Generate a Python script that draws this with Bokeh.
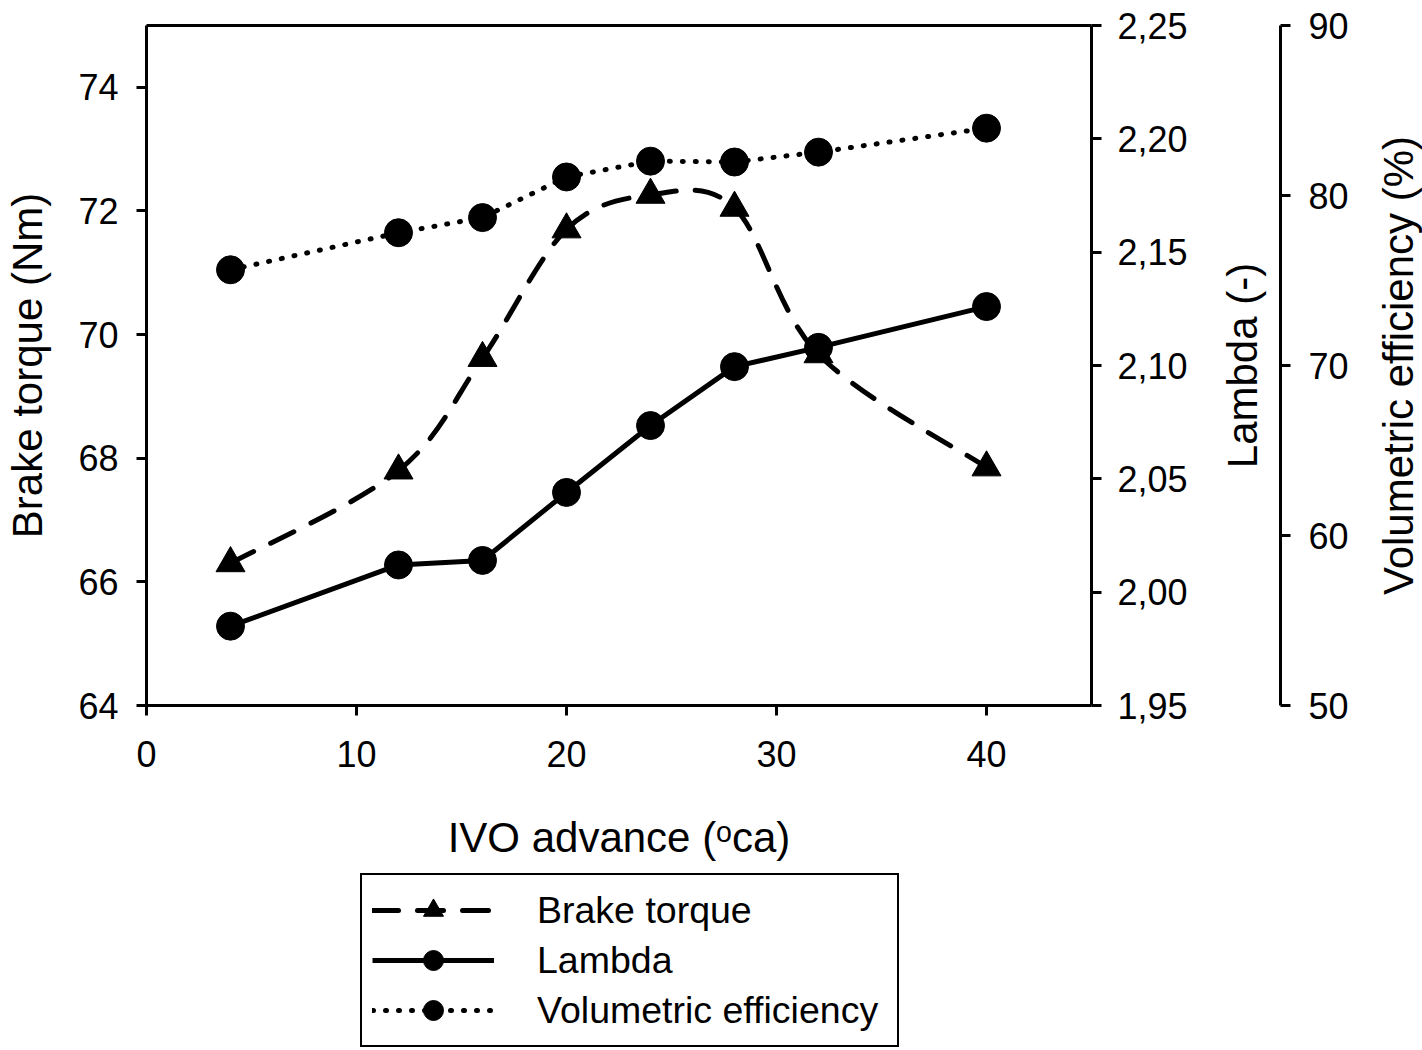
import math
from bokeh.plotting import figure
from bokeh.models import (Range1d, LinearAxis, FixedTicker, CustomJSTickFormatter,
                          Legend, LegendItem, ColumnDataSource, Label)
from bokeh.embed import file_html
from bokeh.resources import INLINE

# ---- data ----
ivo_advance = [4, 12, 16, 20, 24, 28, 32, 40]
brake_torque = [66.30, 67.80, 69.62, 71.70, 72.26, 72.05, 69.68, 67.85]
lambda_vals = [1.985, 2.012, 2.014, 2.044, 2.0735, 2.0995, 2.108, 2.126]
vol_eff = [75.63, 77.81, 78.70, 81.09, 82.02, 81.97, 82.55, 83.96]

x_ticks = [0, 10, 20, 30, 40]
torque_ticks = [64, 66, 68, 70, 72, 74]
lambda_ticks = [1.95, 2.00, 2.05, 2.10, 2.15, 2.20, 2.25]
vol_ticks = [50, 60, 70, 80, 90]

X_LIM = (0, 45)
T_LIM = (64, 75)
L_LIM = (1.95, 2.25)
V_LIM = (50, 90)

FONT = "Liberation Sans"

# ---- page geometry (pixels) ----
W, H = 1422, 1050
BOX_L, BOX_R, BOX_T, BOX_B = 146, 1091, 25, 705
VOL_AXIS_PX = 1280


def span(lim, lo_px, hi_px, total, from_top=False):
    # extend a data range so that lim maps onto the pixel box inside the full canvas
    a, b = lim
    per_px = (b - a) / (hi_px - lo_px)
    if from_top:
        return Range1d(a - (total - hi_px) * per_px, b + lo_px * per_px)
    return Range1d(a - lo_px * per_px, b + (total - hi_px) * per_px)


x_rng = span(X_LIM, BOX_L, BOX_R, W)
t_rng = span(T_LIM, BOX_T, BOX_B, H, from_top=True)
l_rng = span(L_LIM, BOX_T, BOX_B, H, from_top=True)
v_rng = span(V_LIM, BOX_T, BOX_B, H, from_top=True)
vol_axis_x = X_LIM[0] + (VOL_AXIS_PX - BOX_L) * (X_LIM[1] - X_LIM[0]) / (BOX_R - BOX_L)

p = figure(frame_width=W, frame_height=H, x_range=x_rng, y_range=t_rng,
           output_backend="svg", toolbar_location=None,
           min_border_left=0, min_border_right=0, min_border_top=0, min_border_bottom=0)
p.extra_y_ranges = {"lam": l_rng, "vol": v_rng}
p.xgrid.visible = False
p.ygrid.visible = False
p.outline_line_color = None
p.background_fill_color = "white"
p.border_fill_color = "white"


def style_axis(ax):
    ax.axis_line_width = 3
    ax.axis_line_color = "black"
    ax.major_tick_line_width = 3
    ax.major_tick_line_color = "black"
    ax.major_tick_out = 10
    ax.major_tick_in = 0
    ax.minor_tick_line_color = None
    ax.major_label_text_font = FONT
    ax.major_label_text_font_size = "36px"
    ax.major_label_text_color = "black"
    ax.axis_label_text_font = FONT
    ax.axis_label_text_font_size = "42px"
    ax.axis_label_text_font_style = "normal"
    ax.axis_label_text_color = "black"


xa = p.xaxis[0]
style_axis(xa)
xa.ticker = FixedTicker(ticks=x_ticks)
xa.bounds = X_LIM
xa.fixed_location = T_LIM[0]
xa.axis_label = "IVO advance (\u1d52ca)"
xa.major_label_standoff = 25
xa.axis_label_standoff = 44

ya = p.yaxis[0]
style_axis(ya)
ya.ticker = FixedTicker(ticks=torque_ticks)
ya.bounds = T_LIM
ya.fixed_location = X_LIM[0]
ya.axis_label = "Brake torque (Nm)"
ya.major_label_standoff = 18
ya.axis_label_standoff = 24

# top edge of the plot box
top = LinearAxis(ticker=FixedTicker(ticks=[]), bounds=X_LIM, fixed_location=T_LIM[1])
top.axis_line_width = 3
top.axis_line_color = "black"
top.major_tick_line_color = None
top.minor_tick_line_color = None
top.major_label_text_font_size = "0px"
p.add_layout(top, "above")

lam_axis = LinearAxis(y_range_name="lam", ticker=FixedTicker(ticks=lambda_ticks),
                      formatter=CustomJSTickFormatter(code="return tick.toFixed(2).replace('.', ',');"),
                      bounds=L_LIM, fixed_location=X_LIM[1])
style_axis(lam_axis)
lam_axis.major_label_standoff = 16
p.add_layout(lam_axis, "right")

vol_axis = LinearAxis(y_range_name="vol", ticker=FixedTicker(ticks=vol_ticks),
                      bounds=V_LIM, fixed_location=vol_axis_x)
style_axis(vol_axis)
vol_axis.major_label_standoff = 18
p.add_layout(vol_axis, "right")

# rotated axis titles on the right, reading bottom-to-top
mid_y = H - (BOX_T + BOX_B) / 2
for text, xc in [("Lambda (-)", 1242), ("Volumetric efficiency (%)", 1398)]:
    p.add_layout(Label(x=xc, y=mid_y, x_units="screen", y_units="screen", text=text,
                       angle=math.pi / 2, text_align="center", text_baseline="middle",
                       text_font=FONT, text_font_size="42px", text_color="black"))


# smooth curve (Catmull-Rom -> cubic Bezier) through the brake torque points
def bezier_source(xs, ys):
    n = len(xs)
    d = dict(x0=[], y0=[], x1=[], y1=[], cx0=[], cy0=[], cx1=[], cy1=[])
    for i in range(n - 1):
        a = max(i - 1, 0)
        b = min(i + 2, n - 1)
        d["x0"].append(xs[i]); d["y0"].append(ys[i])
        d["x1"].append(xs[i + 1]); d["y1"].append(ys[i + 1])
        d["cx0"].append(xs[i] + (xs[i + 1] - xs[a]) / 6)
        d["cy0"].append(ys[i] + (ys[i + 1] - ys[a]) / 6)
        d["cx1"].append(xs[i + 1] - (xs[b] - xs[i]) / 6)
        d["cy1"].append(ys[i + 1] - (ys[b] - ys[i]) / 6)
    return ColumnDataSource(d)


bt_curve = p.bezier(x0="x0", y0="y0", x1="x1", y1="y1", cx0="cx0", cy0="cy0",
                    cx1="cx1", cy1="cy1", source=bezier_source(ivo_advance, brake_torque),
                    line_color="black", line_width=5, line_dash="26 19", line_cap="round")
bt_pts = p.scatter(ivo_advance, brake_torque, marker="triangle", size=29,
                   fill_color="black", line_color="black")

lam_line = p.line(ivo_advance, lambda_vals, y_range_name="lam",
                  line_color="black", line_width=5)
lam_pts = p.scatter(ivo_advance, lambda_vals, y_range_name="lam", marker="circle",
                    size=28, fill_color="black", line_color="black")

vol_line = p.line(ivo_advance, vol_eff, y_range_name="vol", line_color="black",
                  line_width=5, line_dash="1 12", line_cap="round")
vol_pts = p.scatter(ivo_advance, vol_eff, y_range_name="vol", marker="circle",
                    size=28, fill_color="black", line_color="black")

legend = Legend(items=[
    LegendItem(label="Brake torque", renderers=[bt_curve, bt_pts]),
    LegendItem(label="Lambda", renderers=[lam_line, lam_pts]),
    LegendItem(label="Volumetric efficiency", renderers=[vol_line, vol_pts]),
], location=(360, 3))
legend.label_text_font = FONT
legend.label_text_font_size = "37.5px"
legend.label_text_color = "black"
legend.glyph_width = 122
legend.glyph_height = 50
legend.label_height = 45
legend.label_width = 350
legend.spacing = 0
legend.padding = 10
legend.label_standoff = 43
legend.border_line_color = "black"
legend.border_line_width = 2
legend.border_line_alpha = 1.0
legend.background_fill_color = "white"
legend.background_fill_alpha = 1.0
legend.margin = 0
p.add_layout(legend, "center")

open("out.html", "w").write(file_html(p, INLINE))
